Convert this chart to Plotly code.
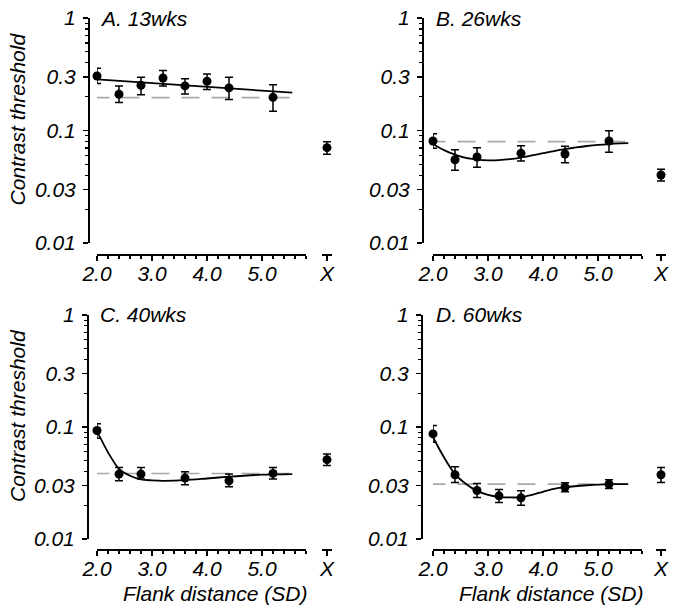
import plotly.graph_objects as go

# ---------------- data ----------------
panel_labels = ["A. 13wks", "B. 26wks", "C. 40wks", "D. 60wks"]

x_A = [2.0, 2.4, 2.8, 3.2, 3.6, 4.0, 4.4, 5.2]
y_A = [0.305, 0.210, 0.252, 0.293, 0.249, 0.274, 0.239, 0.197]
hi_A = [0.357, 0.249, 0.298, 0.342, 0.289, 0.318, 0.298, 0.255]
lo_A = [0.262, 0.177, 0.208, 0.249, 0.211, 0.232, 0.189, 0.148]
ctrl_A = [0.0704, 0.0796, 0.0614]   # value, upper, lower
base_A = 0.196
fitx_A = [2.0, 5.55]
fity_A = [0.285, 0.217]

x_B = [2.0, 2.4, 2.8, 3.6, 4.4, 5.2]
y_B = [0.0807, 0.0550, 0.0581, 0.0627, 0.0618, 0.0807]
hi_B = [0.0937, 0.0676, 0.0704, 0.0733, 0.0724, 0.0997]
lo_B = [0.0694, 0.0443, 0.0471, 0.0536, 0.0518, 0.0640]
ctrl_B = [0.0402, 0.0452, 0.0356]
base_B = 0.0796
fitx_B = [2.0, 2.2, 2.4, 2.6, 2.8, 3.0, 3.2, 3.4, 3.6, 3.8, 4.0, 4.2, 4.4, 4.6, 4.8, 5.0, 5.2, 5.4, 5.55]
fity_B = [0.076, 0.067, 0.061, 0.057, 0.0552, 0.0543, 0.0545, 0.0556, 0.0575, 0.060, 0.0628,
          0.0657, 0.0683, 0.0707, 0.0728, 0.0745, 0.0758, 0.0767, 0.0772]

x_C = [2.0, 2.4, 2.8, 3.6, 4.4, 5.2]
y_C = [0.093, 0.038, 0.038, 0.035, 0.0331, 0.0385]
hi_C = [0.107, 0.0436, 0.0434, 0.0399, 0.038, 0.0436]
lo_C = [0.0794, 0.0331, 0.0343, 0.0305, 0.0293, 0.0343]
ctrl_C = [0.0511, 0.0574, 0.0452]
base_C = 0.0385
fitx_C = [2.0, 2.2, 2.4, 2.6, 2.8, 3.0, 3.2, 3.6, 4.0, 4.4, 5.0, 5.55]
fity_C = [0.092, 0.0594, 0.0422, 0.0367, 0.034, 0.0334, 0.0331, 0.0335, 0.0347, 0.036, 0.0375, 0.038]

x_D = [2.0, 2.4, 2.8, 3.2, 3.6, 4.4, 5.2]
y_D = [0.0868, 0.0375, 0.0271, 0.0243, 0.0233, 0.0290, 0.0309]
hi_D = [0.103, 0.0442, 0.0313, 0.0277, 0.0269, 0.0318, 0.0338]
lo_D = [0.0731, 0.0320, 0.0235, 0.0212, 0.0200, 0.0264, 0.0283]
ctrl_D = [0.0375, 0.0436, 0.0320]
base_D = 0.0309
fitx_D = [2.0, 2.2, 2.4, 2.6, 2.8, 3.0, 3.2, 3.4, 3.6, 3.8, 4.0, 4.2, 4.4, 4.8, 5.2, 5.55]
fity_D = [0.081, 0.0536, 0.038, 0.031, 0.0269, 0.0248, 0.0238, 0.0235, 0.0236, 0.0248, 0.0264,
          0.028, 0.029, 0.0302, 0.0309, 0.0309]

base_xrange = [1.9, 5.5]

y_tickvals = [0.01, 0.03, 0.1, 0.3, 1]
y_ticktext = ["0.01", "0.03", "0.1", "0.3", "1"]
y_minor = [0.02, 0.04, 0.05, 0.06, 0.07, 0.08, 0.09, 0.2, 0.4, 0.5, 0.6, 0.7, 0.8, 0.9]
x_tickvals = [2.0, 3.0, 4.0, 5.0]
x_ticktext = ["2.0", "3.0", "4.0", "5.0"]

ylabel = "Contrast threshold"
xlabel = "Flank distance (SD)"

data = [
    (x_A, y_A, hi_A, lo_A, ctrl_A, base_A, fitx_A, fity_A),
    (x_B, y_B, hi_B, lo_B, ctrl_B, base_B, fitx_B, fity_B),
    (x_C, y_C, hi_C, lo_C, ctrl_C, base_C, fitx_C, fity_C),
    (x_D, y_D, hi_D, lo_D, ctrl_D, base_D, fitx_D, fity_D),
]

# ---------------- geometry (window pixels) ----------------
W, H = 679, 612
geom = [
    dict(yax=88, x0=97, top=18, bot=243, xay=254, cx=327),
    dict(yax=422, x0=433, top=18, bot=243, xay=254, cx=661),
    dict(yax=87, x0=97, top=315, bot=539, xay=549, cx=327),
    dict(yax=421, x0=433, top=315, bot=539, xay=549, cx=661),
]
PX_PER_UNIT = 55
XMAX = 5.8

def fx(p):
    return p / W

def fy(p):
    return 1 - p / H

FONT = dict(family="Liberation Sans, Arial, sans-serif", size=21, color="black", style="italic")

fig = go.Figure()
layout = dict(
    template="none",
    width=W, height=H, margin=dict(l=0, r=0, t=0, b=0, pad=0), autosize=False,
    paper_bgcolor="white", plot_bgcolor="white", showlegend=False,
    font=FONT, hovermode=False,
)
annotations = []

for i, (xs, ys, hi, lo, ctrl, base, fitx, fity) in enumerate(data):
    g = geom[i]
    xm = 2 * i + 1
    xc = 2 * i + 2
    yn = i + 1
    xm_name = "x" if xm == 1 else f"x{xm}"
    xc_name = f"x{xc}"
    y_name = "y" if yn == 1 else f"y{yn}"

    # baseline (dashed gray)
    fig.add_trace(go.Scatter(
        x=base_xrange, y=[base, base], xaxis=xm_name, yaxis=y_name, mode="lines",
        line=dict(color="#a8a8a8", width=1.6, dash="18px,12px"), cliponaxis=False,
        hoverinfo="skip"))
    # fit
    fig.add_trace(go.Scatter(
        x=fitx, y=fity, xaxis=xm_name, yaxis=y_name, mode="lines",
        line=dict(color="black", width=1.8, shape="spline", smoothing=0.8),
        cliponaxis=False, hoverinfo="skip"))
    # data
    fig.add_trace(go.Scatter(
        x=xs, y=ys, xaxis=xm_name, yaxis=y_name, mode="markers",
        marker=dict(color="black", size=9),
        error_y=dict(type="data", symmetric=False,
                     array=[h - v for h, v in zip(hi, ys)],
                     arrayminus=[v - l for v, l in zip(ys, lo)],
                     color="black", thickness=1.5, width=4),
        cliponaxis=False))
    # control (X)
    fig.add_trace(go.Scatter(
        x=[0], y=[ctrl[0]], xaxis=xc_name, yaxis=y_name, mode="markers",
        marker=dict(color="black", size=9),
        error_y=dict(type="data", symmetric=False,
                     array=[ctrl[1] - ctrl[0]], arrayminus=[ctrl[0] - ctrl[2]],
                     color="black", thickness=1.5, width=4),
        cliponaxis=False))

    x1 = g["x0"] + (XMAX - 2.0) * PX_PER_UNIT
    layout[f"xaxis{xm}"] = dict(
        domain=[fx(g["x0"]), fx(x1)], range=[2.0, XMAX], anchor="free",
        position=fy(g["xay"]), showline=True, linecolor="black", linewidth=1.5,
        showgrid=False, zeroline=False, ticks="outside", ticklen=5, tickwidth=1.5,
        tickcolor="black", tickvals=x_tickvals, ticktext=x_ticktext,
        tickfont=FONT, ticklabelstandoff=-5, automargin=False, ticklabeloverflow="allow",
        minor=dict(ticks="outside", ticklen=3, tickwidth=1.2, tickcolor="black",
                   dtick=0.2, showgrid=False),
    )
    layout[f"xaxis{xc}"] = dict(
        domain=[fx(g["cx"] - 5), fx(g["cx"] + 5)], range=[-1, 1], anchor="free",
        position=fy(g["xay"]), showline=True, linecolor="black", linewidth=1.5,
        showgrid=False, zeroline=False, ticks="outside", ticklen=5, tickwidth=1.5,
        tickcolor="black", tickvals=[0], ticktext=["X"], tickfont=FONT,
        ticklabelstandoff=-5, automargin=False, ticklabeloverflow="allow",
    )
    layout[f"yaxis{yn}"] = dict(
        domain=[fy(g["bot"]), fy(g["top"])], type="log", range=[-2, 0],
        anchor="free", position=fx(g["yax"]), showline=True, linecolor="black",
        linewidth=1.5, showgrid=False, zeroline=False, ticks="outside", ticklen=5,
        tickwidth=1.5, tickcolor="black", tickvals=y_tickvals, ticktext=y_ticktext,
        tickfont=FONT, ticklabelstandoff=3, automargin=False, ticklabeloverflow="allow",
        minor=dict(ticks="outside", ticklen=3, tickwidth=1.2, tickcolor="black",
                   tickvals=y_minor, showgrid=False),
    )

    annotations.append(dict(
        text=panel_labels[i], x=fx(g["x0"] + 1), y=fy(g["top"]), xref="paper", yref="paper",
        xanchor="left", yanchor="middle", showarrow=False, font=FONT))
    if i in (0, 2):
        annotations.append(dict(
            text=ylabel, x=fx(17), y=fy((g["top"] + g["bot"]) / 2 - 11), xref="paper",
            yref="paper", xanchor="center", yanchor="middle", textangle=-90,
            showarrow=False, font=FONT))
    if i in (2, 3):
        annotations.append(dict(
            text=xlabel, x=fx(g["x0"] + 118), y=fy(593), xref="paper", yref="paper",
            xanchor="center", yanchor="middle", showarrow=False, font=FONT))

layout["annotations"] = annotations
fig.update_layout(**layout)
fig.write_html("out.html", config={"displayModeBar": False, "staticPlot": True},
               post_script="document.body.style.margin='0px';document.body.style.overflow='hidden';")
